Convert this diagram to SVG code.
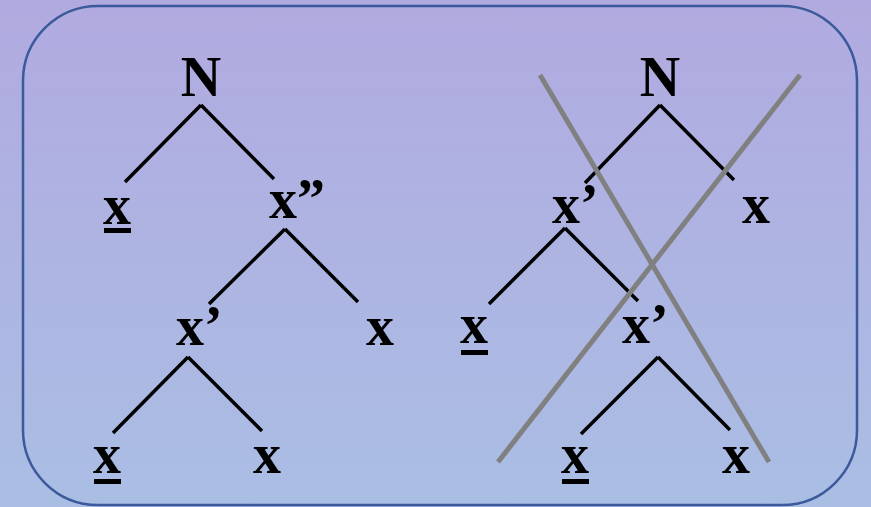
<svg xmlns="http://www.w3.org/2000/svg" width="871" height="507" viewBox="0 0 871 507">
<defs>
<linearGradient id="bg" x1="0" y1="0" x2="0" y2="1">
<stop offset="0" stop-color="#B1AAE0"/>
<stop offset="1" stop-color="#AABEE4"/>
</linearGradient>
</defs>
<style>
.t{font-family:"Liberation Serif","Times New Roman",serif;font-weight:bold;font-size:56px;fill:#000}
.e{stroke:#000;stroke-width:3.5;fill:none}
.u{fill:#000}
.c{stroke:#808080;stroke-width:5;fill:none}
</style>
<rect x="0" y="0" width="871" height="507" fill="url(#bg)"/>
<rect x="23" y="6" width="834" height="499" rx="75" ry="75" fill="none" stroke="#3B5A9B" stroke-width="2.5"/>
<g id="connectors">
<path class="e" d="M201,105 L125,182 M201,105 L274,179"/>
<path class="e" d="M285,229 L209,304 M285,229 L358,302"/>
<path class="e" d="M188,357 L113,433 M188,357 L262,431"/>
<path class="e" d="M660,105 L585,183 M660,105 L734,180"/>
<path class="e" d="M565,228 L489,304 M565,228 L638,301"/>
<path class="e" d="M658,357 L581,434 M658,357 L730,430"/>
</g>
<g id="left-N"><text class="t" x="201" y="96" text-anchor="middle">N</text></g>
<g id="left-x1"><text class="t" x="117" y="224" text-anchor="middle">x</text><rect class="u" x="104" y="228" width="27" height="5"/></g>
<g id="left-x2"><text class="t" x="269" y="218">x”</text></g>
<g id="left-x3"><text class="t" x="176" y="345">x’</text></g>
<g id="left-x4"><text class="t" x="380" y="345" text-anchor="middle">x</text></g>
<g id="left-x5"><text class="t" x="107" y="473" text-anchor="middle">x</text><rect class="u" x="94" y="479" width="27" height="5"/></g>
<g id="left-x6"><text class="t" x="267" y="473" text-anchor="middle">x</text></g>
<g id="right-N"><text class="t" x="660" y="96" text-anchor="middle">N</text></g>
<g id="right-x1"><text class="t" x="552" y="223">x’</text></g>
<g id="right-x2"><text class="t" x="756" y="223" text-anchor="middle">x</text></g>
<g id="right-x3"><text class="t" x="474" y="343" text-anchor="middle">x</text><rect class="u" x="461" y="350" width="27" height="5"/></g>
<g id="right-x4"><text class="t" x="622" y="343">x’</text></g>
<g id="right-x5"><text class="t" x="575" y="473" text-anchor="middle">x</text><rect class="u" x="562" y="479" width="27" height="5"/></g>
<g id="right-x6"><text class="t" x="736" y="473" text-anchor="middle">x</text></g>
<g id="cross">
<path class="c" d="M540,75 L769,462"/>
<path class="c" d="M800,75 L498,462"/>
</g>
</svg>
